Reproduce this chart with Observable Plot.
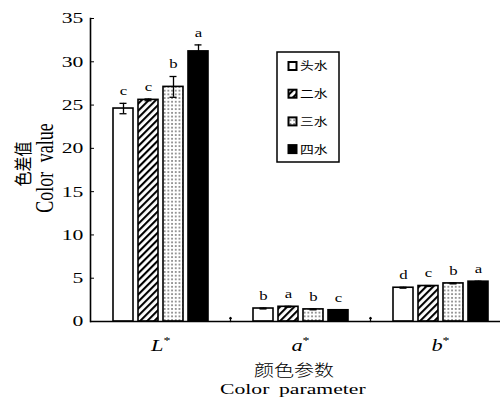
<!DOCTYPE html>
<html><head><meta charset="utf-8">
<script src="https://cdn.jsdelivr.net/npm/d3@7"></script>
<script src="https://cdn.jsdelivr.net/npm/@observablehq/plot@0.6"></script>
<style>body{margin:0;background:#fff}</style>
</head><body><div id="chart"></div>
<script>
const params = ["L*", "a*", "b*"];
const waters = ["头水", "二水", "三水", "四水"];
const valuesL = [24.6, 25.6, 27.1, 31.2];
const valuesA = [1.5, 1.7, 1.4, 1.3];
const valuesB = [3.9, 4.1, 4.4, 4.6];
const errL = [0.6, 0.1, 1.2, 0.75];
const errA = [0.05, 0.05, 0.05, 0.05];
const errB = [0.05, 0.05, 0.05, 0.05];
const sigL = ["c", "c", "b", "a"];
const sigA = ["b", "a", "b", "c"];
const sigB = ["d", "c", "b", "a"];
const yTicks = [0, 5, 10, 15, 20, 25, 30, 35];
const yTitleZh = "色差值", yTitleEn = "Color value";
const xTitleZh = "颜色参数", xTitleEn = "Color parameter";

const vals = [valuesL, valuesA, valuesB], errs = [errL, errA, errB], sigs = [sigL, sigA, sigB];
const data = params.flatMap((p, i) => waters.map((w, j) => ({param: p, water: w, value: vals[i][j], err: errs[i][j], sig: sigs[i][j]})));
const fills = ["white", "url(#hatch)", "url(#dots)", "black"];

const plot = Plot.plot({
  width: 500, height: 406,
  marginLeft: 90, marginRight: -10, marginTop: 18, marginBottom: 85,
  style: {fontFamily: "'Liberation Serif', serif", fontSize: "15.5px", background: "white", color: "black", overflow: "hidden"},
  fx: {domain: params, padding: 0, axis: "bottom", label: null, tickSize: 0, tickPadding: 18},
  x: {domain: waters, paddingInner: 0.2, paddingOuter: 0.82, axis: null},
  y: {domain: [0, 35], ticks: yTicks, tickSize: -4, tickPadding: 11, label: null},
  color: {domain: waters, range: fills},
  marks: [
    Plot.barY(data, {fx: "param", x: "water", y: "value", fill: "water", stroke: "black", strokeWidth: 1.6}),
    Plot.ruleX(data, {fx: "param", x: "water", y1: d => d.value - d.err, y2: d => d.value + d.err, stroke: "black", strokeWidth: 1.3}),
    Plot.tickY(data, {fx: "param", x: "water", y: d => d.value + d.err, insetLeft: 6.5, insetRight: 6.5, stroke: "black", strokeWidth: 1.3}),
    Plot.tickY(data, {fx: "param", x: "water", y: d => d.value - d.err, insetLeft: 6.5, insetRight: 6.5, stroke: "black", strokeWidth: 1.3}),
    Plot.text(data, {fx: "param", x: "water", y: d => d.value + d.err, text: "sig", dy: -12, fontSize: 12}),
    Plot.ruleY([0], {stroke: "black", strokeWidth: 1.6}),
    Plot.frame({anchor: "left", facetAnchor: "left", stroke: "black", strokeWidth: 1.6}),
    Plot.vector(params.slice(1), {fx: d => d, frameAnchor: "bottom-left", length: 4, rotate: 0, anchor: "start", stroke: "black", strokeWidth: 1.3})
  ]
});
document.getElementById("chart").appendChild(plot);
const svg = d3.select(plot);

// patterns
const defs = svg.insert("defs", ":first-child");
const hatch = defs.append("pattern").attr("id", "hatch").attr("patternUnits", "userSpaceOnUse")
  .attr("width", 5).attr("height", 5).attr("patternTransform", "rotate(45)");
hatch.append("rect").attr("width", 5).attr("height", 5).attr("fill", "white");
hatch.append("rect").attr("width", 2.1).attr("height", 5).attr("fill", "black");
const dots = defs.append("pattern").attr("id", "dots").attr("patternUnits", "userSpaceOnUse")
  .attr("width", 3.7).attr("height", 3.7);
dots.append("rect").attr("width", 3.7).attr("height", 3.7).attr("fill", "white");
dots.append("rect").attr("x", 1).attr("y", 1).attr("width", 1.7).attr("height", 1.7).attr("fill", "#808080");

// fx labels: italic letter + superscript asterisk
svg.selectAll('g[aria-label="fx-axis tick label"] text').each(function() {
  const t = d3.select(this);
  const s = t.text();
  t.text(null).style("font-style", "italic").style("font-size", "16px");
  t.append("tspan").text(s.replace("*", ""));
  t.append("tspan").text("*").style("font-style", "normal").style("font-size", "10px").attr("dy", "-7");
});

// axis titles
const ff = "'Liberation Serif', serif";
const cjk = "'Noto Sans CJK SC', sans-serif";
svg.append("text").attr("transform", "translate(28,164) rotate(-90)").attr("text-anchor", "middle")
  .attr("fill", "black").attr("data-s", 1.25).attr("data-rot", 1)
  .style("font-family", cjk).style("font-size", "15px").style("font-weight", "400").text(yTitleZh);
svg.append("text").attr("transform", "translate(51,168) rotate(-90)").attr("text-anchor", "middle")
  .attr("fill", "black").attr("data-s", 1.35).attr("data-rot", 1)
  .style("font-family", ff).style("font-size", "18px").style("word-spacing", "5px").text(yTitleEn);
svg.append("text").attr("x", 294).attr("y", 376).attr("text-anchor", "middle")
  .attr("fill", "black").attr("data-s", 1.25)
  .style("font-family", cjk).style("font-size", "16px").style("font-weight", "300").text(xTitleZh);
svg.append("text").attr("x", 293).attr("y", 394).attr("text-anchor", "middle")
  .attr("fill", "black").attr("data-s", 1.4)
  .style("font-family", ff).style("font-size", "15.5px").style("word-spacing", "3px").text(xTitleEn);

// legend
const lg = svg.append("g");
lg.append("rect").attr("x", 277).attr("y", 52).attr("width", 62).attr("height", 110)
  .attr("fill", "white").attr("stroke", "black").attr("stroke-width", 1.5);
waters.forEach((w, i) => {
  const cy = 66 + i * 27.7;
  lg.append("rect").attr("x", 288.5).attr("y", cy - 4).attr("width", 8).attr("height", 8)
    .attr("fill", fills[i]).attr("stroke", "black").attr("stroke-width", 2);
  lg.append("text").attr("x", 300).attr("y", cy + 4.5).attr("text-anchor", "start").attr("fill", "black")
    .attr("data-s", 1.2).style("font-family", cjk).style("font-size", "11.5px").style("font-weight", "400").text(w);
});

// horizontal stretch of text (the reference is horizontally stretched)
svg.selectAll("text").each(function() {
  const el = this;
  const s = +(el.getAttribute("data-s") || 1.4);
  const anchor = getComputedStyle(el).textAnchor;
  const g = document.createElementNS("http://www.w3.org/2000/svg", "g");
  el.parentNode.insertBefore(g, el);
  g.appendChild(el);
  const b = g.getBBox();
  let cx = b.x + b.width / 2;
  if (!el.getAttribute("data-rot")) {
    if (anchor === "end") cx = b.x + b.width;
    else if (anchor === "start") cx = b.x;
  }
  g.setAttribute("transform", `translate(${cx},0) scale(${s},1) translate(${-cx},0)`);
});
</script></body></html>
